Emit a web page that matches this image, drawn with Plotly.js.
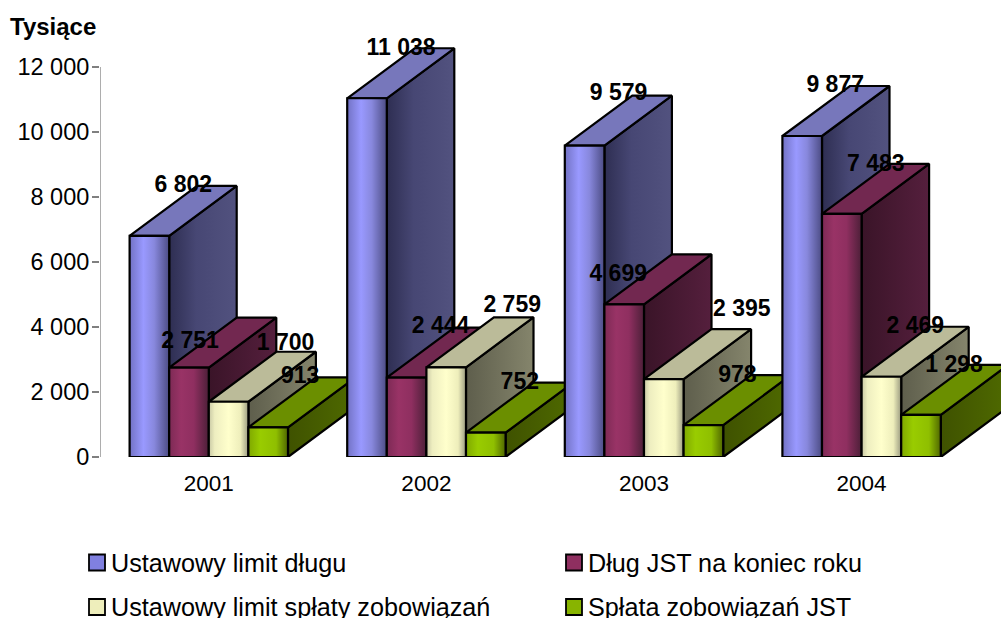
<!DOCTYPE html>
<html><head><meta charset="utf-8">
<script src="https://cdn.plot.ly/plotly-3.0.1.min.js"></script>
<style>html,body{margin:0;padding:0;background:#fff;overflow:hidden}#c{width:1001px;height:618px}</style>
</head><body><div id="c"></div>
<script>
const years = ['2001','2002','2003','2004'];
const limitDlugu = [6802,11038,9579,9877];
const dlugJST = [2751,2444,4699,7483];
const limitSplaty = [1700,2759,2395,2469];
const splataJST = [913,752,978,1298];
const seriesNames = ['Ustawowy limit długu','Dług JST na koniec roku','Ustawowy limit spłaty zobowiązań','Spłata zobowiązań JST'];
const yTicks = [0,2000,4000,6000,8000,10000,12000];
const yTickText = ['0','2 000','4 000','6 000','8 000','10 000','12 000'];

// label placement, px offset from bar's front-top-centre (manual layout of the original)
const labelDx = [[34,34,34,33],[1,34,-6,34],[57,66,78,34],[32,34,34,33]];
const labelDy = [[50,49,51,50],[25,50,29,49],[58,61,69,50],[50,49,49,49]];

const values = [limitDlugu,dlugJST,limitSplaty,splataJST];
const pxPerUnitX = 217.6, pxPerUnitY = 390/12000;
const barW = 39.6/pxPerUnitX, depthX = 67.5/pxPerUnitX, depthY = 50/pxPerUnitY;
const groupPad = (1-4*barW)/2;
const fmt = v => String(v).replace(/\B(?=(\d{3})+$)/g,' ');

const styles = [
 {front:[[0,'#7272c4'],[.35,'#9999ff'],[.62,'#8888dd'],[1,'#4c4c84']], side:[[0,'#2e2e52'],[.4,'#474774'],[1,'#52527f']], top:'#7777bb', key:'#8080e0'},
 {front:[[0,'#7d2a55'],[.3,'#993366'],[.62,'#8f2f60'],[1,'#4c1f38']], side:[[0,'#3a1428'],[1,'#551f3d']], top:'#722850', key:'#8f2f60'},
 {front:[[0,'#c8c8a4'],[.15,'#eeeec0'],[.5,'#ffffcc'],[.8,'#eeeebb'],[1,'#9a9a80']], side:[[0,'#5e5e4c'],[1,'#85856c']], top:'#bbbb99', key:'#eeeebb'},
 {front:[[0,'#7fa800'],[.3,'#99cc00'],[.7,'#8fbf00'],[1,'#4f6600']], side:[[0,'#3f5200'],[1,'#4f6a00']], top:'#6b8f00', key:'#88b400'}
];
const edge = {color:'#000',width:2.2};
const traces = [];
function face(xs,ys,s,isGrad,name){
  const t = {type:'scatter',mode:'lines',x:xs.concat(xs[0]),y:ys.concat(ys[0]),fill:'toself',line:edge,
             showlegend:false,hoverinfo:'skip',cliponaxis:false,name:name};
  if(isGrad) t.fillgradient = {type:'horizontal',colorscale:s}; else t.fillcolor = s;
  traces.push(t);
}
years.forEach((yr,g)=>{
  values.forEach((arr,i)=>{
    const v = arr[g], x0 = g+groupPad+i*barW, x1 = x0+barW;
    face([x1,x1+depthX,x1+depthX,x1],[0,depthY,v+depthY,v],styles[i].side,true,seriesNames[i]);
    face([x0,x0+depthX,x1+depthX,x1],[v,v+depthY,v+depthY,v],styles[i].top,false,seriesNames[i]);
    face([x0,x1,x1,x0],[0,0,v,v],styles[i].front,true,seriesNames[i]);
  });
});
// y axis line
traces.push({type:'scatter',mode:'lines',x:[0,0],y:[0,12000],line:{color:'#808080',width:1.3},showlegend:false,hoverinfo:'skip',cliponaxis:false});
// value labels
const lx=[],ly=[],lt=[];
years.forEach((yr,g)=>values.forEach((arr,i)=>{
  lx.push(g+groupPad+(i+.5)*barW+labelDx[i][g]/pxPerUnitX);
  ly.push(arr[g]+labelDy[i][g]/pxPerUnitY);
  lt.push(fmt(arr[g]));
}));
traces.push({type:'scatter',mode:'text',x:lx,y:ly,text:lt,textposition:'middle center',
  textfont:{family:'"Liberation Sans",Arial,sans-serif',size:23,color:'#000',weight:700},showlegend:false,hoverinfo:'skip',cliponaxis:false});

const font = '"Liberation Sans",Arial,sans-serif';
const keyX=[89,566], rowY=[562.5,607];
const annotations=[{xref:'paper',yref:'paper',x:-92/901,y:(618-161-27)/440,xanchor:'left',yanchor:'middle',showarrow:false,
  text:'<b>Tysiące</b>',font:{family:font,size:24,color:'#000'}}];
const shapes=[];
const toPx=x=>(x-100)/901, toPy=y=>(457-y)/440;
seriesNames.forEach((n,i)=>{
  const col=i%2,row=i>>1;
  annotations.push({xref:'paper',yref:'paper',x:toPx(keyX[col]+20),y:toPy(rowY[row]),xanchor:'left',yanchor:'middle',showarrow:false,
    text:n,font:{family:font,size:25.2,color:'#000'}});
  shapes.push({type:'rect',xref:'paper',yref:'paper',x0:toPx(keyX[col]),x1:toPx(keyX[col]+16),y0:toPy(rowY[row]-8),y1:toPy(rowY[row]+8),
    fillcolor:styles[i].key,line:{color:'#000',width:1.8}});
});

Plotly.newPlot('c',traces,{
  width:1001,height:618,showlegend:false,paper_bgcolor:'#fff',plot_bgcolor:'#fff',
  margin:{l:100,r:0,t:17,b:161,autoexpand:false},
  font:{family:font,color:'#000',size:22},
  xaxis:{range:[0,901/pxPerUnitX],tickmode:'array',tickvals:years.map((y,i)=>i+.5),ticktext:years,showgrid:false,zeroline:false,showline:false,ticks:'',
         tickfont:{size:22.5},ticklabelstandoff:10,fixedrange:true},
  yaxis:{range:[0,440/pxPerUnitY],tickmode:'array',tickvals:yTicks,ticktext:yTickText,showgrid:false,zeroline:false,showline:false,
         ticks:'outside',ticklen:7,tickcolor:'#808080',tickwidth:1.3,tickfont:{size:23.5},ticklabelstandoff:-2,fixedrange:true},
  annotations,shapes
},{displayModeBar:false,staticPlot:true});
</script></body></html>
